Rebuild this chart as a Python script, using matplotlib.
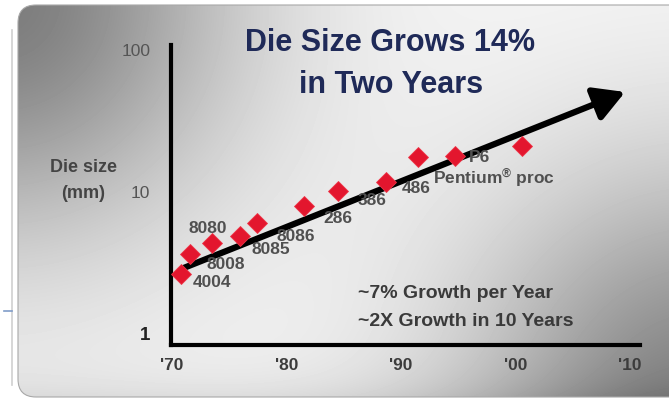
import numpy as np
import matplotlib
matplotlib.use("Agg")
import matplotlib.pyplot as plt
from matplotlib.patches import FancyBboxPatch
from matplotlib.lines import Line2D

# ---- data -------------------------------------------------------------
years = [1970.8, 1971.6, 1973.5, 1975.9, 1977.4, 1981.5, 1984.5, 1988.7,
         1991.5, 1994.7, 2000.6]
die_size = [2.61, 3.62, 4.33, 4.85, 5.99, 7.90, 10.1, 11.7, 17.5, 17.8, 21.0]
chip_names = ["4004", "8008", "8080", "8085", "8086", "286", "386", "486",
              "Pentium$^{®}$ proc", "P6", ""]

trend_start = (1971.0, 2.88)
trend_end = (2009.6, 50.5)

x_ticks = [1970, 1980, 1990, 2000, 2010]
x_tick_labels = ["'70", "'80", "'90", "'00", "'10"]
y_ticks = [1, 10, 100]
y_tick_labels = ["1", "10", "100"]

title_lines = ["Die Size Grows 14%", "in Two Years"]
notes = ["~7% Growth per Year", "~2X Growth in 10 Years"]

# ---- style ------------------------------------------------------------
plt.rcParams["font.family"] = ["Liberation Sans", "DejaVu Sans"]
plt.rcParams["mathtext.fontset"] = "custom"
plt.rcParams["mathtext.rm"] = "Liberation Sans:bold"
plt.rcParams["mathtext.it"] = "Liberation Sans:italic"
plt.rcParams["mathtext.bf"] = "Liberation Sans:bold"

W, H = 669, 401
fig = plt.figure(figsize=(W / 100, H / 100), dpi=100)
fig.patch.set_facecolor("white")

# slide panel with a soft grey shading
bg = fig.add_axes([0, 0, 1, 1])
bg.set_xlim(0, W)
bg.set_ylim(H, 0)
bg.axis("off")
X, Y = np.meshgrid(np.arange(W) + 0.5, np.arange(H) + 0.5)
shade = (0.97
         - 0.48 * np.exp(-(X ** 2 + Y ** 2) / (2 * 170 ** 2))
         - 0.44 * np.exp(-((X - 700) ** 2 + (Y - 400) ** 2) / (2 * 170 ** 2)))
shade -= 0.10 * np.exp(-(H - Y) / 25.0)
img = bg.imshow(np.clip(shade, 0, 1), cmap="gray", vmin=0, vmax=1,
                extent=(0, W, H, 0), interpolation="bilinear", zorder=0)
panel = FancyBboxPatch((18, 5), 720, 392,
                       boxstyle="round,pad=0,rounding_size=18",
                       transform=bg.transData, facecolor="none",
                       edgecolor="#a8a8a8", lw=0.8, zorder=1)
bg.add_patch(panel)
img.set_clip_path(panel)
bg.add_line(Line2D([12, 12], [30, 385], color="#cfcfcf", lw=1.2))
bg.add_line(Line2D([4, 12], [311, 311], color="#7f9cc8", lw=1.2))

# ---- main chart ---------------------------------------------------------
ax = fig.add_axes([171 / W, 1 - 345 / H, 469 / W, 300 / H])
ax.patch.set_alpha(0)
ax.set_yscale("log")
ax.set_xlim(1969.9, 2010.9)
ax.set_ylim(0.823, 108.5)

for side in ("top", "right"):
    ax.spines[side].set_visible(False)
for side in ("left", "bottom"):
    ax.spines[side].set_linewidth(3.0)
    ax.spines[side].set_color("black")
    ax.spines[side].set_capstyle("projecting")

ax.set_xticks(x_ticks, x_tick_labels)
ax.set_yticks(y_ticks, y_tick_labels)
ax.minorticks_off()
ax.tick_params(axis="both", length=0, labelsize=12.5, labelcolor="#3c3c3c")
ax.tick_params(axis="x", pad=9)
ax.tick_params(axis="y", pad=15)
for lab in ax.get_xticklabels():
    lab.set_fontweight("bold")
ax.get_yticklabels()[0].set_fontweight("bold")
ax.get_yticklabels()[0].set_fontsize(13.5)
ax.get_yticklabels()[0].set_color("#222222")
for lab in ax.get_yticklabels()[1:]:
    lab.set_color("#555555")

# trend arrow
ax.annotate("", xy=trend_end, xytext=trend_start,
            arrowprops=dict(arrowstyle="-|>,head_length=0.8,head_width=0.45",
                            lw=4.5, color="black", mutation_scale=23,
                            shrinkA=0, shrinkB=0),
            zorder=2, annotation_clip=False)

# processors
ax.plot(years, die_size, "D", ms=10, color="#e3162e", mec="#ee3446",
        mew=0.6, zorder=3, clip_on=False)

label_offsets = [(31, -8), (35, -11), (-4, 14), (31, -14), (39, -13),
                 (34, -12), (34, -10), (30, -7), (15, -20), (25, -1), (0, 0)]
for x, y, name, off in zip(years, die_size, chip_names, label_offsets):
    if not name:
        continue
    ha = "left" if name.startswith("Pentium") else "center"
    ax.annotate(name, (x, y), xytext=off, textcoords="offset pixels",
                ha=ha, va="center", fontsize=12.5, fontweight="bold",
                color="#505050", zorder=4)

# ---- text ---------------------------------------------------------------
fig.text(390 / W, 1 - 43 / H, title_lines[0], ha="center", va="center",
         fontsize=22, fontweight="bold", color="#1f2a58")
fig.text(391 / W, 1 - 85 / H, title_lines[1], ha="center", va="center",
         fontsize=22, fontweight="bold", color="#1f2a58")

fig.text(84 / W, 1 - 168 / H, "Die size", ha="center", va="center",
         fontsize=13, fontweight="bold", color="#444444")
fig.text(83 / W, 1 - 193 / H, "(mm)", ha="center", va="center",
         fontsize=13, fontweight="bold", color="#444444")

fig.text(358 / W, 1 - 293 / H, notes[0], ha="left", va="center",
         fontsize=14, fontweight="bold", color="#3a3a3a")
fig.text(358 / W, 1 - 322 / H, notes[1], ha="left", va="center",
         fontsize=14, fontweight="bold", color="#3a3a3a")

fig.savefig("out.png", dpi=100, facecolor="white")
